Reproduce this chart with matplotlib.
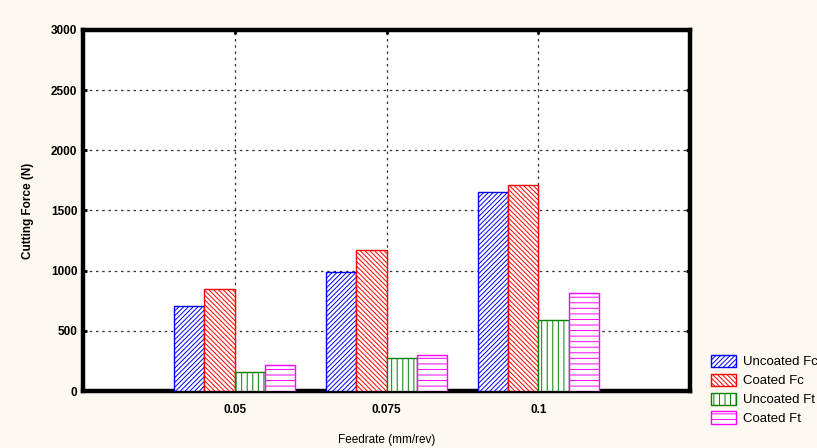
import matplotlib.pyplot as plt
import numpy as np
from matplotlib.patches import Patch

plt.rcParams['font.family'] = ['Liberation Sans', 'DejaVu Sans']
plt.rcParams['hatch.linewidth'] = 0.7

feedrates = ['0.05', '0.075', '0.1']
uncoated_fc = [705, 985, 1650]
coated_fc = [845, 1170, 1710]
uncoated_ft = [155, 272, 588]
coated_ft = [212, 297, 812]

series = [
    ('Uncoated Fc', uncoated_fc, 'blue', '///////'),
    ('Coated Fc', coated_fc, 'red', '\\\\\\\\\\\\\\'),
    ('Uncoated Ft', uncoated_ft, 'green', '|||'),
    ('Coated Ft', coated_ft, 'magenta', '---'),
]

bg = '#fdf9f0'
fig = plt.figure(figsize=(8.17, 4.48), dpi=100, facecolor=bg)
ax = fig.add_axes([0.1016, 0.1272, 0.743, 0.806])
ax.set_facecolor('white')

x = np.arange(1, len(feedrates) + 1)
w = 0.2
offsets = [-0.3, -0.1, 0.1, 0.3]
handles = []
for (name, vals, col, hatch), off in zip(series, offsets):
    ax.bar(x + off, vals, w, facecolor='white', edgecolor=col, hatch=hatch,
           linewidth=1.0, zorder=3)
    handles.append(Patch(facecolor='white', edgecolor=col, hatch=hatch, label=name))

ax.set_xlim(0, 4)
ax.set_ylim(0, 3000)
ax.set_xticks(x)
ax.set_xticklabels(feedrates)
ax.set_yticks(np.arange(0, 3001, 500))
ax.grid(True, color='#333333', linestyle=(0, (2, 3)), linewidth=0.9, zorder=1)
for s in ax.spines.values():
    s.set_linewidth(3.2)
ax.tick_params(direction='in', length=3, width=2, right=True, top=True,
               labelsize=8.5, pad=9)
for lbl in ax.get_xticklabels() + ax.get_yticklabels():
    lbl.set_fontweight('bold')
ax.tick_params(axis='y', pad=4)

ax.set_ylabel('Cutting Force (N)', fontsize=8.5, fontweight='bold', labelpad=12)
ax.set_xlabel('Feedrate (mm/rev)', fontsize=8.5, labelpad=13)

fig.legend(handles=handles, loc='upper left', bbox_to_anchor=(0.864, 0.22),
           frameon=False, fontsize=9.5, handlelength=1.9, handleheight=1.05,
           handletextpad=0.5, labelspacing=0.4, borderaxespad=0)

fig.savefig('out.png', dpi=100, facecolor=bg)
